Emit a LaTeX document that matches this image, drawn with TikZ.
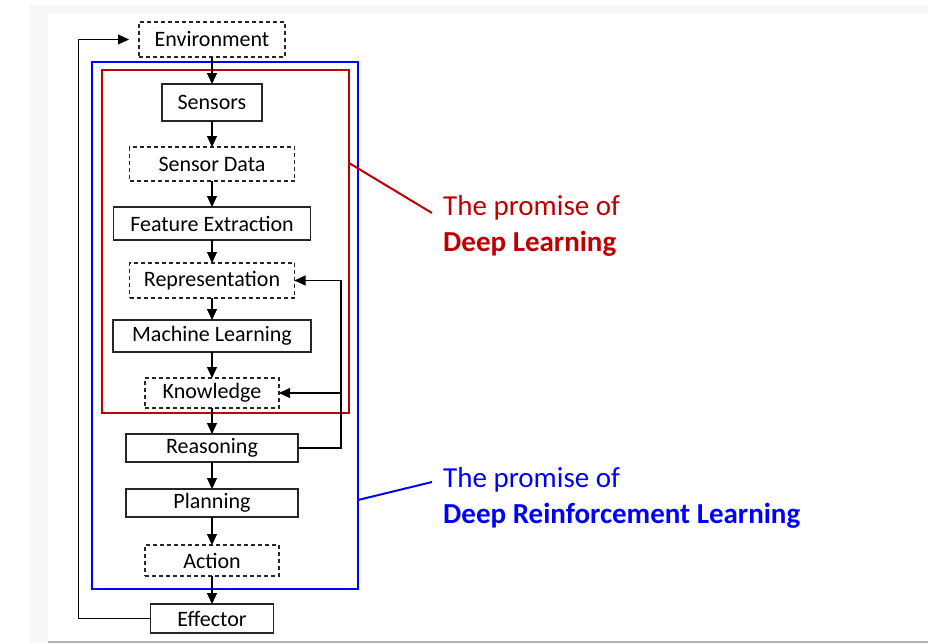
\documentclass[tikz,border=0pt]{standalone}
\usepackage{fontspec}
\setmainfont{Carlito}
\usetikzlibrary{arrows.meta,positioning}
\definecolor{dlred}{RGB}{192,0,0}
\definecolor{drlblue}{RGB}{0,0,255}
\definecolor{pagegray}{RGB}{246,247,249}

\begin{document}
\begin{tikzpicture}[
    x=1pt, y=-1pt,
    node distance=26pt,
    box/.style={draw=black!85, line width=1.1pt, minimum width=#1, inner sep=0pt, outer sep=0pt, font=\fontsize{22}{26}\selectfont},
    box/.default=100pt,
    dbox/.style={box=#1, dash pattern=on 4pt off 3pt},
    arr/.style={-{Triangle[length=11pt,width=10pt]}, line width=1.1pt},
    frame/.style={line width=2.6pt, draw=#1},
    promise/.style={anchor=west, align=left, inner sep=0pt, text=#1, font=\fontsize{29}{36}\selectfont},
]
\useasboundingbox (0,0) rectangle (942,643);
% Page background
\fill[pagegray] (30,5) rectangle (928,643);
\fill[white] (48,13) rectangle (928,641);
\draw[gray!60, line width=1.5pt] (48,642) -- (928,642);
% Frames
\draw[frame=drlblue] (92,62) rectangle (358,589);
\draw[frame=dlred] (102,70) rectangle (349,413);
% Pipeline
\node[dbox=146pt, minimum height=35pt] (env) at (212,39.5) {Environment};
\node[box=100pt, minimum height=37pt, below=27pt of env] (sens) {Sensors};
\node[dbox=165pt, minimum height=34pt, below=of sens] (sdata) {Sensor Data};
\node[box=197pt, minimum height=33pt, below=of sdata] (feat) {Feature Extraction};
\node[dbox=165pt, minimum height=35pt, below=23pt of feat] (repr) {Representation};
\node[box=198pt, minimum height=32pt, below=22pt of repr] (ml) {Machine Learning};
\node[dbox=134pt, minimum height=30pt, below=of ml] (know) {Knowledge};
\node[box=172pt, minimum height=28pt, below=of know] (reas) {Reasoning};
\node[box=172pt, minimum height=28pt, below=27pt of reas] (plan) {Planning};
\node[dbox=134pt, minimum height=31pt, below=28pt of plan] (act) {Action};
\node[box=123pt, minimum height=29pt, below=28pt of act] (eff) {Effector};
% Arrows
\draw[arr] (env) -- (sens);
\draw[arr] (sens) -- (sdata);
\draw[arr] (sdata) -- (feat);
\draw[arr] (feat) -- (repr);
\draw[arr] (repr) -- (ml);
\draw[arr] (ml) -- (know);
\draw[arr] (know) -- (reas);
\draw[arr] (reas) -- (plan);
\draw[arr] (plan) -- (act);
\draw[arr] (act) -- (eff);
% Feedback
\draw[arr] (reas.east) -- ++(43,0) |- (repr.east);
\draw[arr] (reas.east) -- ++(43,0) |- (know.east);
\draw[arr, shorten >=10pt] (eff.west) -- ++(-72,0) |- (env.west);
% Callouts
\node[promise=dlred] (dl) at (443,226) {The promise of\\\textbf{Deep Learning}};
\node[promise=drlblue] (drl) at (443,497.5) {The promise of\\\textbf{Deep Reinforcement Learning}};
\coordinate (dlpin) at (349,163);
\coordinate (dltip) at (432,213);
\coordinate (drlpin) at (358,500);
\coordinate (drltip) at (432,482);
\draw[dlred, line width=2pt] (dlpin) -- (dltip);
\draw[drlblue, line width=2pt] (drlpin) -- (drltip);
\end{tikzpicture}
\end{document}
